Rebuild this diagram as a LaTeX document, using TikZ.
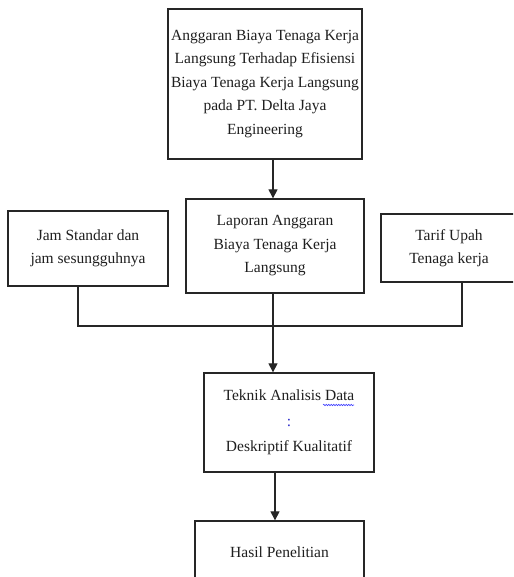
\documentclass[tikz,border=0pt]{standalone}
\usepackage{fontspec}
\setmainfont{Liberation Serif}
\usetikzlibrary{arrows.meta,decorations.pathmorphing}
\begin{document}
\begin{tikzpicture}[x=1pt,y=-1pt,
  box/.style={draw=black!85, line width=1.3pt, fill=white, align=center, inner sep=0pt,
              text=black!88, font=\fontsize{15.5}{23.5}\selectfont},
  link/.style={draw=black!85, line width=1.1pt},
  arr/.style={link, -{Triangle[length=9pt,width=9pt]}}]
\clip (0,0) rectangle (513,577);
\fill[white] (0,0) rectangle (513,577);

\node[box, minimum width=194pt, minimum height=150pt] (top) at (265,84)
  {Anggaran Biaya Tenaga Kerja\\Langsung Terhadap Efisiensi\\Biaya Tenaga Kerja Langsung\\pada PT. Delta Jaya\\Engineering};
\node[box, minimum width=160pt, minimum height=75pt] (jam) at (88,248.5)
  {Jam Standar dan\\jam sesungguhnya};
\node[box, minimum width=178pt, minimum height=94pt] (lap) at (275,246)
  {Laporan Anggaran\\Biaya Tenaga Kerja\\Langsung};
\node[box, minimum width=136pt, minimum height=68pt] (tarif) at (449,248)
  {Tarif Upah\\Tenaga kerja};
\node[box, minimum width=170pt, minimum height=99pt] (teknik) at (289,422.5)
  {Teknik Analisis Data\\[2pt]{\color{blue!60!gray}:}\\[2pt]Deskriptif Kualitatif};
\node[box, minimum width=169pt, minimum height=62pt] (hasil) at (279.5,552)
  {Hasil Penelitian};

\coordinate (c1) at (273,0);
\coordinate (c2) at (275,0);
\coordinate (jx) at (78,326);
\coordinate (tx) at (462,326);

\draw[arr] (top.south -| c1) -- (lap.north -| c1);
\draw[link] (jam.south -| jx) -- (jx) -- (tx) -- (tarif.south -| tx);
\draw[arr] (lap.south -| c1) -- (teknik.north -| c1);
\draw[arr] (teknik.south -| c2) -- (hasil.north -| c2);

\draw[blue!75, line width=0.6pt, decorate, decoration={snake, amplitude=0.7pt, segment length=2.5pt}]
  (323,405) -- (354,405);
\end{tikzpicture}
\end{document}
